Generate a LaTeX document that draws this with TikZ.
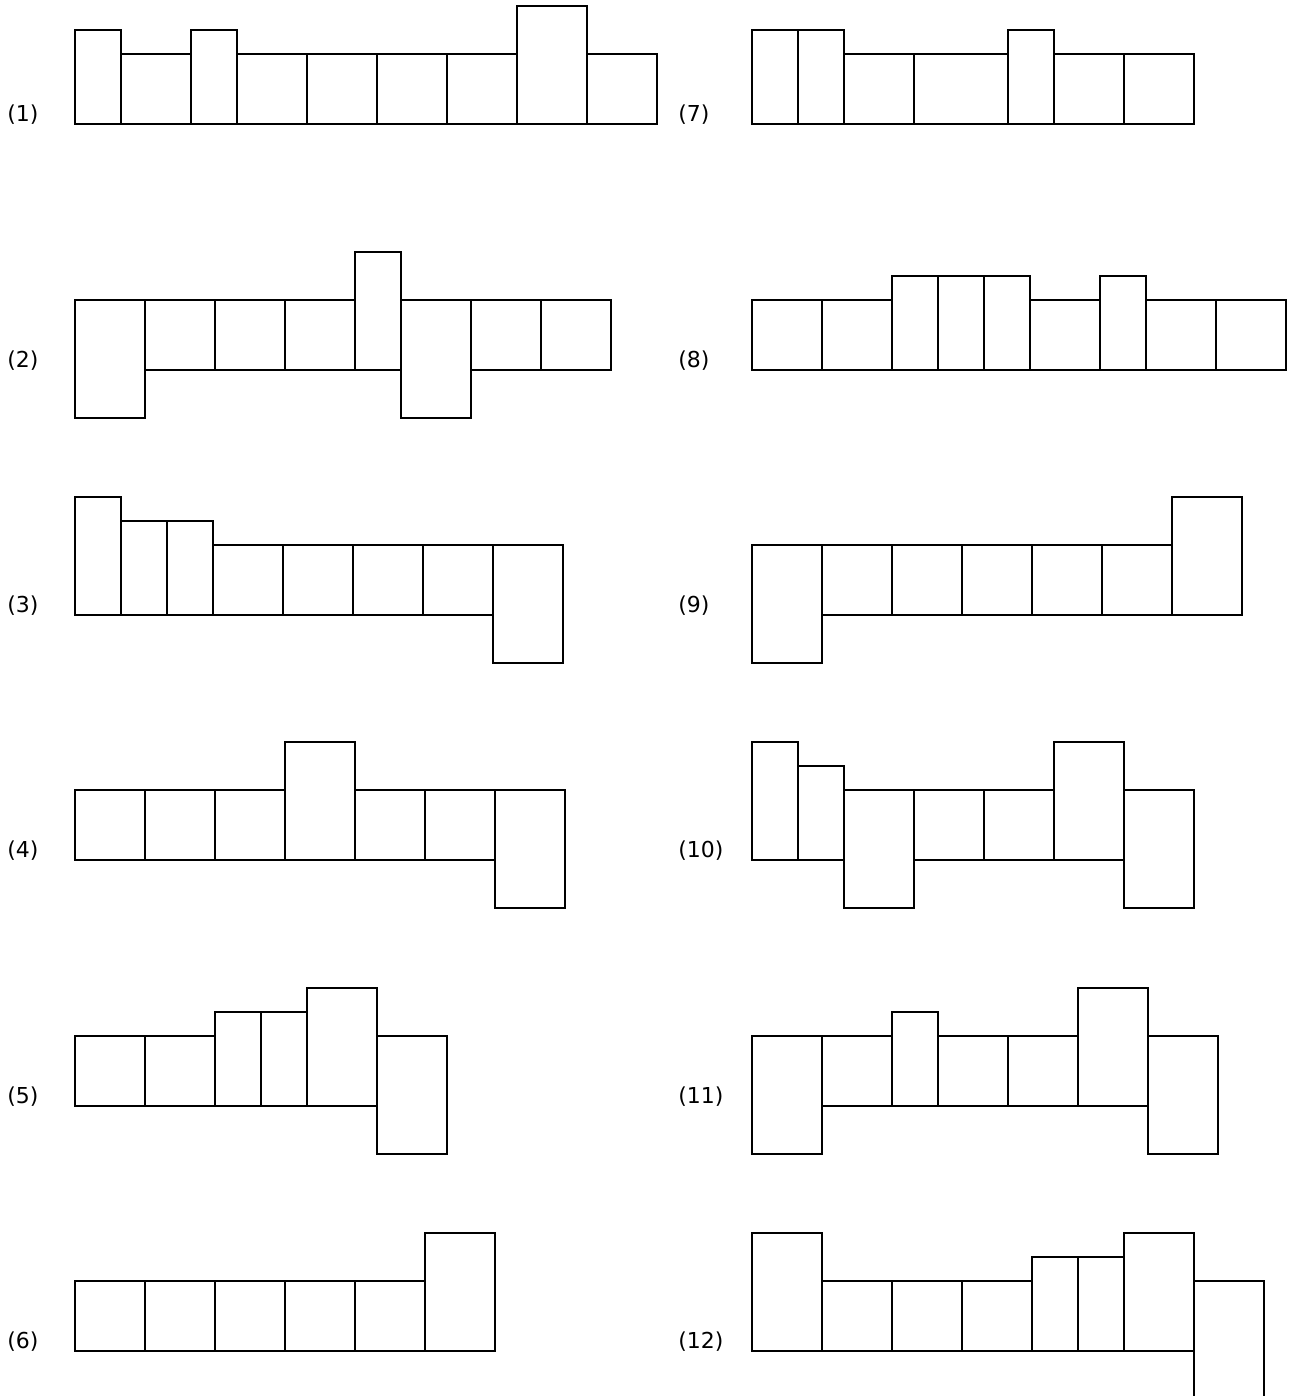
\documentclass[tikz,border=0pt]{standalone}
\usepackage{fontspec}
\setmainfont{DejaVu Sans}
\usepackage{tikz}

\begin{document}
\begin{tikzpicture}[
    x=0.02cm, y=-0.02cm,
    piece/.style={draw=black, line width=1.1pt},
    tag/.style={anchor=west, inner sep=0pt, font=\fontsize{12.5}{15}\selectfont}
]
\useasboundingbox (0,0) rectangle (1294,1396);
\clip (0,0) rectangle (1294,1396);

% labels
\node[tag] (lab1) at (7,115) {(1)};
\node[tag] (lab2) at (7,361) {(2)};
\node[tag] (lab3) at (7,606) {(3)};
\node[tag] (lab4) at (7,851) {(4)};
\node[tag] (lab5) at (7,1097) {(5)};
\node[tag] (lab6) at (7,1342) {(6)};
\node[tag] (lab7) at (678,115) {(7)};
\node[tag] (lab8) at (678,361) {(8)};
\node[tag] (lab9) at (678,606) {(9)};
\node[tag] (lab10) at (678,851) {(10)};
\node[tag] (lab11) at (678,1097) {(11)};
\node[tag] (lab12) at (678,1342) {(12)};

% (1)
\draw[piece] (75,124) rectangle (121,30) (121,124) rectangle (191,54)
    (191,124) rectangle (237,30) (237,124) rectangle (307,54)
    (307,124) rectangle (377,54) (377,124) rectangle (447,54)
    (447,124) rectangle (517,54) (517,124) rectangle (587,6)
    (587,124) rectangle (657,54);
% (2)
\draw[piece] (75,300) rectangle (145,418) (145,370) rectangle (215,300)
    (215,370) rectangle (285,300) (285,370) rectangle (355,300)
    (355,370) rectangle (401,252) (401,300) rectangle (471,418)
    (471,370) rectangle (541,300) (541,370) rectangle (611,300);
% (3)
\draw[piece] (75,615) rectangle (121,497) (121,615) rectangle (167,521)
    (167,615) rectangle (213,521) (213,615) rectangle (283,545)
    (283,615) rectangle (353,545) (353,615) rectangle (423,545)
    (423,615) rectangle (493,545) (493,545) rectangle (563,663);
% (4)
\draw[piece] (75,860) rectangle (145,790) (145,860) rectangle (215,790)
    (215,860) rectangle (285,790) (285,860) rectangle (355,742)
    (355,860) rectangle (425,790) (425,860) rectangle (495,790)
    (495,790) rectangle (565,908);
% (5)
\draw[piece] (75,1106) rectangle (145,1036) (145,1106) rectangle (215,1036)
    (215,1106) rectangle (261,1012) (261,1106) rectangle (307,1012)
    (307,1106) rectangle (377,988) (377,1036) rectangle (447,1154);
% (6)
\draw[piece] (75,1351) rectangle (145,1281) (145,1351) rectangle (215,1281)
    (215,1351) rectangle (285,1281) (285,1351) rectangle (355,1281)
    (355,1351) rectangle (425,1281) (425,1351) rectangle (495,1233);
% (7)
\draw[piece] (752,124) rectangle (798,30) (798,124) rectangle (844,30)
    (844,124) rectangle (914,54) (914,124) rectangle (1008,54)
    (1008,124) rectangle (1054,30) (1054,124) rectangle (1124,54)
    (1124,124) rectangle (1194,54);
% (8)
\draw[piece] (752,370) rectangle (822,300) (822,370) rectangle (892,300)
    (892,370) rectangle (938,276) (938,370) rectangle (984,276)
    (984,370) rectangle (1030,276) (1030,370) rectangle (1100,300)
    (1100,370) rectangle (1146,276) (1146,370) rectangle (1216,300)
    (1216,370) rectangle (1286,300);
% (9)
\draw[piece] (752,545) rectangle (822,663) (822,615) rectangle (892,545)
    (892,615) rectangle (962,545) (962,615) rectangle (1032,545)
    (1032,615) rectangle (1102,545) (1102,615) rectangle (1172,545)
    (1172,615) rectangle (1242,497);
% (10)
\draw[piece] (752,860) rectangle (798,742) (798,860) rectangle (844,766)
    (844,790) rectangle (914,908) (914,860) rectangle (984,790)
    (984,860) rectangle (1054,790) (1054,860) rectangle (1124,742)
    (1124,790) rectangle (1194,908);
% (11)
\draw[piece] (752,1036) rectangle (822,1154) (822,1106) rectangle (892,1036)
    (892,1106) rectangle (938,1012) (938,1106) rectangle (1008,1036)
    (1008,1106) rectangle (1078,1036) (1078,1106) rectangle (1148,988)
    (1148,1036) rectangle (1218,1154);
% (12)
\draw[piece] (752,1351) rectangle (822,1233) (822,1351) rectangle (892,1281)
    (892,1351) rectangle (962,1281) (962,1351) rectangle (1032,1281)
    (1032,1351) rectangle (1078,1257) (1078,1351) rectangle (1124,1257)
    (1124,1351) rectangle (1194,1233) (1194,1281) rectangle (1264,1399);

\end{tikzpicture}
\end{document}
